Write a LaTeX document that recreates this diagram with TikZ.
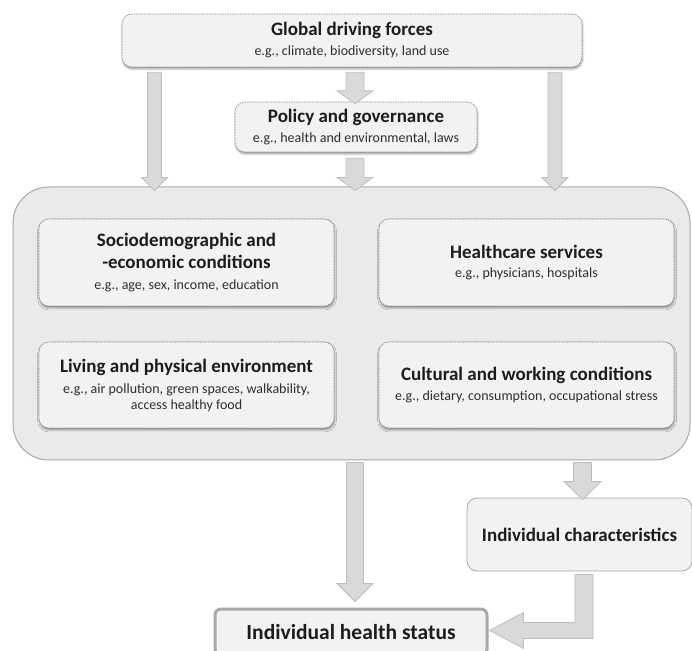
\documentclass[tikz,border=0pt]{standalone}
\usepackage{fontspec}
\setmainfont{Carlito}
\usetikzlibrary{calc,shadows.blur}

\definecolor{ink}{HTML}{1C1C1C}
\definecolor{subink}{HTML}{2E2E2E}
\definecolor{panelfill}{HTML}{F2F2F2}
\definecolor{panelline}{HTML}{8C8C8C}
\definecolor{groupfill}{HTML}{EAEAEA}
\definecolor{groupline}{HTML}{A8A8A8}
\definecolor{arrowfill}{HTML}{D9D9D9}
\definecolor{arrowline}{HTML}{BDBDBD}

\newcommand\ttl[1]{{\fontsize{19}{21}\selectfont\bfseries\color{ink}#1}}
\newcommand\subtxt[1]{{\fontsize{14}{21}\selectfont\color{subink}#1}}

% vertical block arrow: #1 top centre, #2 tip, #3 shaft half width,
% #4 head half width, #5 head length
\newcommand\blockdown[5]{%
  \path[blockarrow] let \p1=#1, \p2=#2 in
    (\x1-#3,\y1) -- (\x1+#3,\y1) -- (\x1+#3,\y2+#5) -- (\x1+#4,\y2+#5)
    -- (\x1,\y2) -- (\x1-#4,\y2+#5) -- (\x1-#3,\y2+#5) -- cycle;}

\tikzset{
  panel/.style={draw=panelline, dash pattern=on 1.6pt off 1pt, line width=0.6pt,
    fill=panelfill, rounded corners=10pt, align=center, inner sep=0pt,
    font=\fontsize{14}{21}\selectfont,
    blur shadow={shadow xshift=0.5pt, shadow yshift=-2pt,
      shadow blur radius=2pt, shadow opacity=40}},
  group/.style={draw=groupline, line width=1pt, fill=groupfill,
    rounded corners=36pt, inner sep=0pt},
  plainbox/.style={draw=groupline, line width=0.8pt, fill=panelfill,
    rounded corners=10pt, align=center, inner sep=0pt},
  statusbox/.style={draw=groupline, line width=3pt, fill=panelfill,
    rounded corners=6pt, align=center, inner sep=0pt},
  blockarrow/.style={draw=arrowline, fill=arrowfill, line width=0.8pt,
    line join=miter},
}

\begin{document}
\begin{tikzpicture}[x=1pt, y=1pt]
\useasboundingbox (0,0) rectangle (692,650);

% large group of determinants
\node[group, minimum width=677pt, minimum height=273pt] (core) at (351.5,326.5) {};

% top level boxes
\node[panel, minimum width=460pt, minimum height=53pt] (global) at (352,609.5)
  {\ttl{Global driving forces}\\[-1pt]\subtxt{e.g., climate, biodiversity, land use}};
\node[panel, minimum width=242pt, minimum height=50pt] (policy) at (356,523)
  {\ttl{Policy and governance}\\[-1pt]\subtxt{e.g., health and environmental, laws}};

% determinants inside the group
\node[panel, minimum width=295pt, minimum height=87pt] (socio) at (186.5,387.5)
  {\ttl{Sociodemographic and}\\[1pt]\ttl{-economic conditions}\\\subtxt{e.g., age, sex, income, education}};
\node[panel, minimum width=295pt, minimum height=87pt] (care) at (526.5,387.5)
  {\ttl{Healthcare services}\\[-2pt]\subtxt{e.g., physicians, hospitals}};
\node[panel, minimum width=295pt, minimum height=86pt] (living) at (186.5,265)
  {\ttl{Living and physical environment}\\\subtxt{e.g., air pollution, green spaces, walkability,}\\[-5pt]\subtxt{access healthy food}};
\node[panel, minimum width=295pt, minimum height=86pt] (culture) at (526.5,265)
  {\ttl{Cultural and working conditions}\\[-1pt]\subtxt{e.g., dietary, consumption, occupational stress}};

% individual level
\node[plainbox, minimum width=225pt, minimum height=73pt] (indiv) at (579.5,115.5)
  {\ttl{Individual characteristics}};
\node[statusbox, minimum width=272pt, minimum height=46pt] (status) at (351,18)
  {{\fontsize{21.5}{24}\selectfont\bfseries\color{ink}Individual health status}};

% arrows from the global level
\blockdown{($(global.south)+(-197.5,-5)$)}{($(core.north)+(-197,-4)$)}{7}{13}{13}
\blockdown{($(global.south)+(3,-5)$)}{($(policy.north)+(-1,-2)$)}{9}{18}{13}
\blockdown{($(global.south)+(203,-5)$)}{($(core.north)+(203.5,-4)$)}{7}{13}{13}
\blockdown{($(policy.south)+(-1,-6)$)}{($(core.north)+(3.5,-4)$)}{9}{18}{13}

% arrows from the group to the individual level
\blockdown{($(core.south)+(3.5,-2)$)}{($(status.north)+(4,6)$)}{8.5}{18}{18}
\blockdown{($(core.south)+(231,-2)$)}{($(indiv.north)+(3,-2)$)}{9}{18.5}{18}

% bent arrow from individual characteristics to health status
\path[blockarrow] let \p1=($(indiv.south)+(4.5,-3)$), \p2=($(status.east)+(1,1.5)$) in
  (\x1-9,\y1) -- (\x1+9,\y1) -- (\x1+9,\y2-8) -- (\x2+34,\y2-8) -- (\x2+34,\y2-18)
  -- (\x2,\y2) -- (\x2+34,\y2+18) -- (\x2+34,\y2+8) -- (\x1-9,\y2+8) -- cycle;
\end{tikzpicture}
\end{document}
